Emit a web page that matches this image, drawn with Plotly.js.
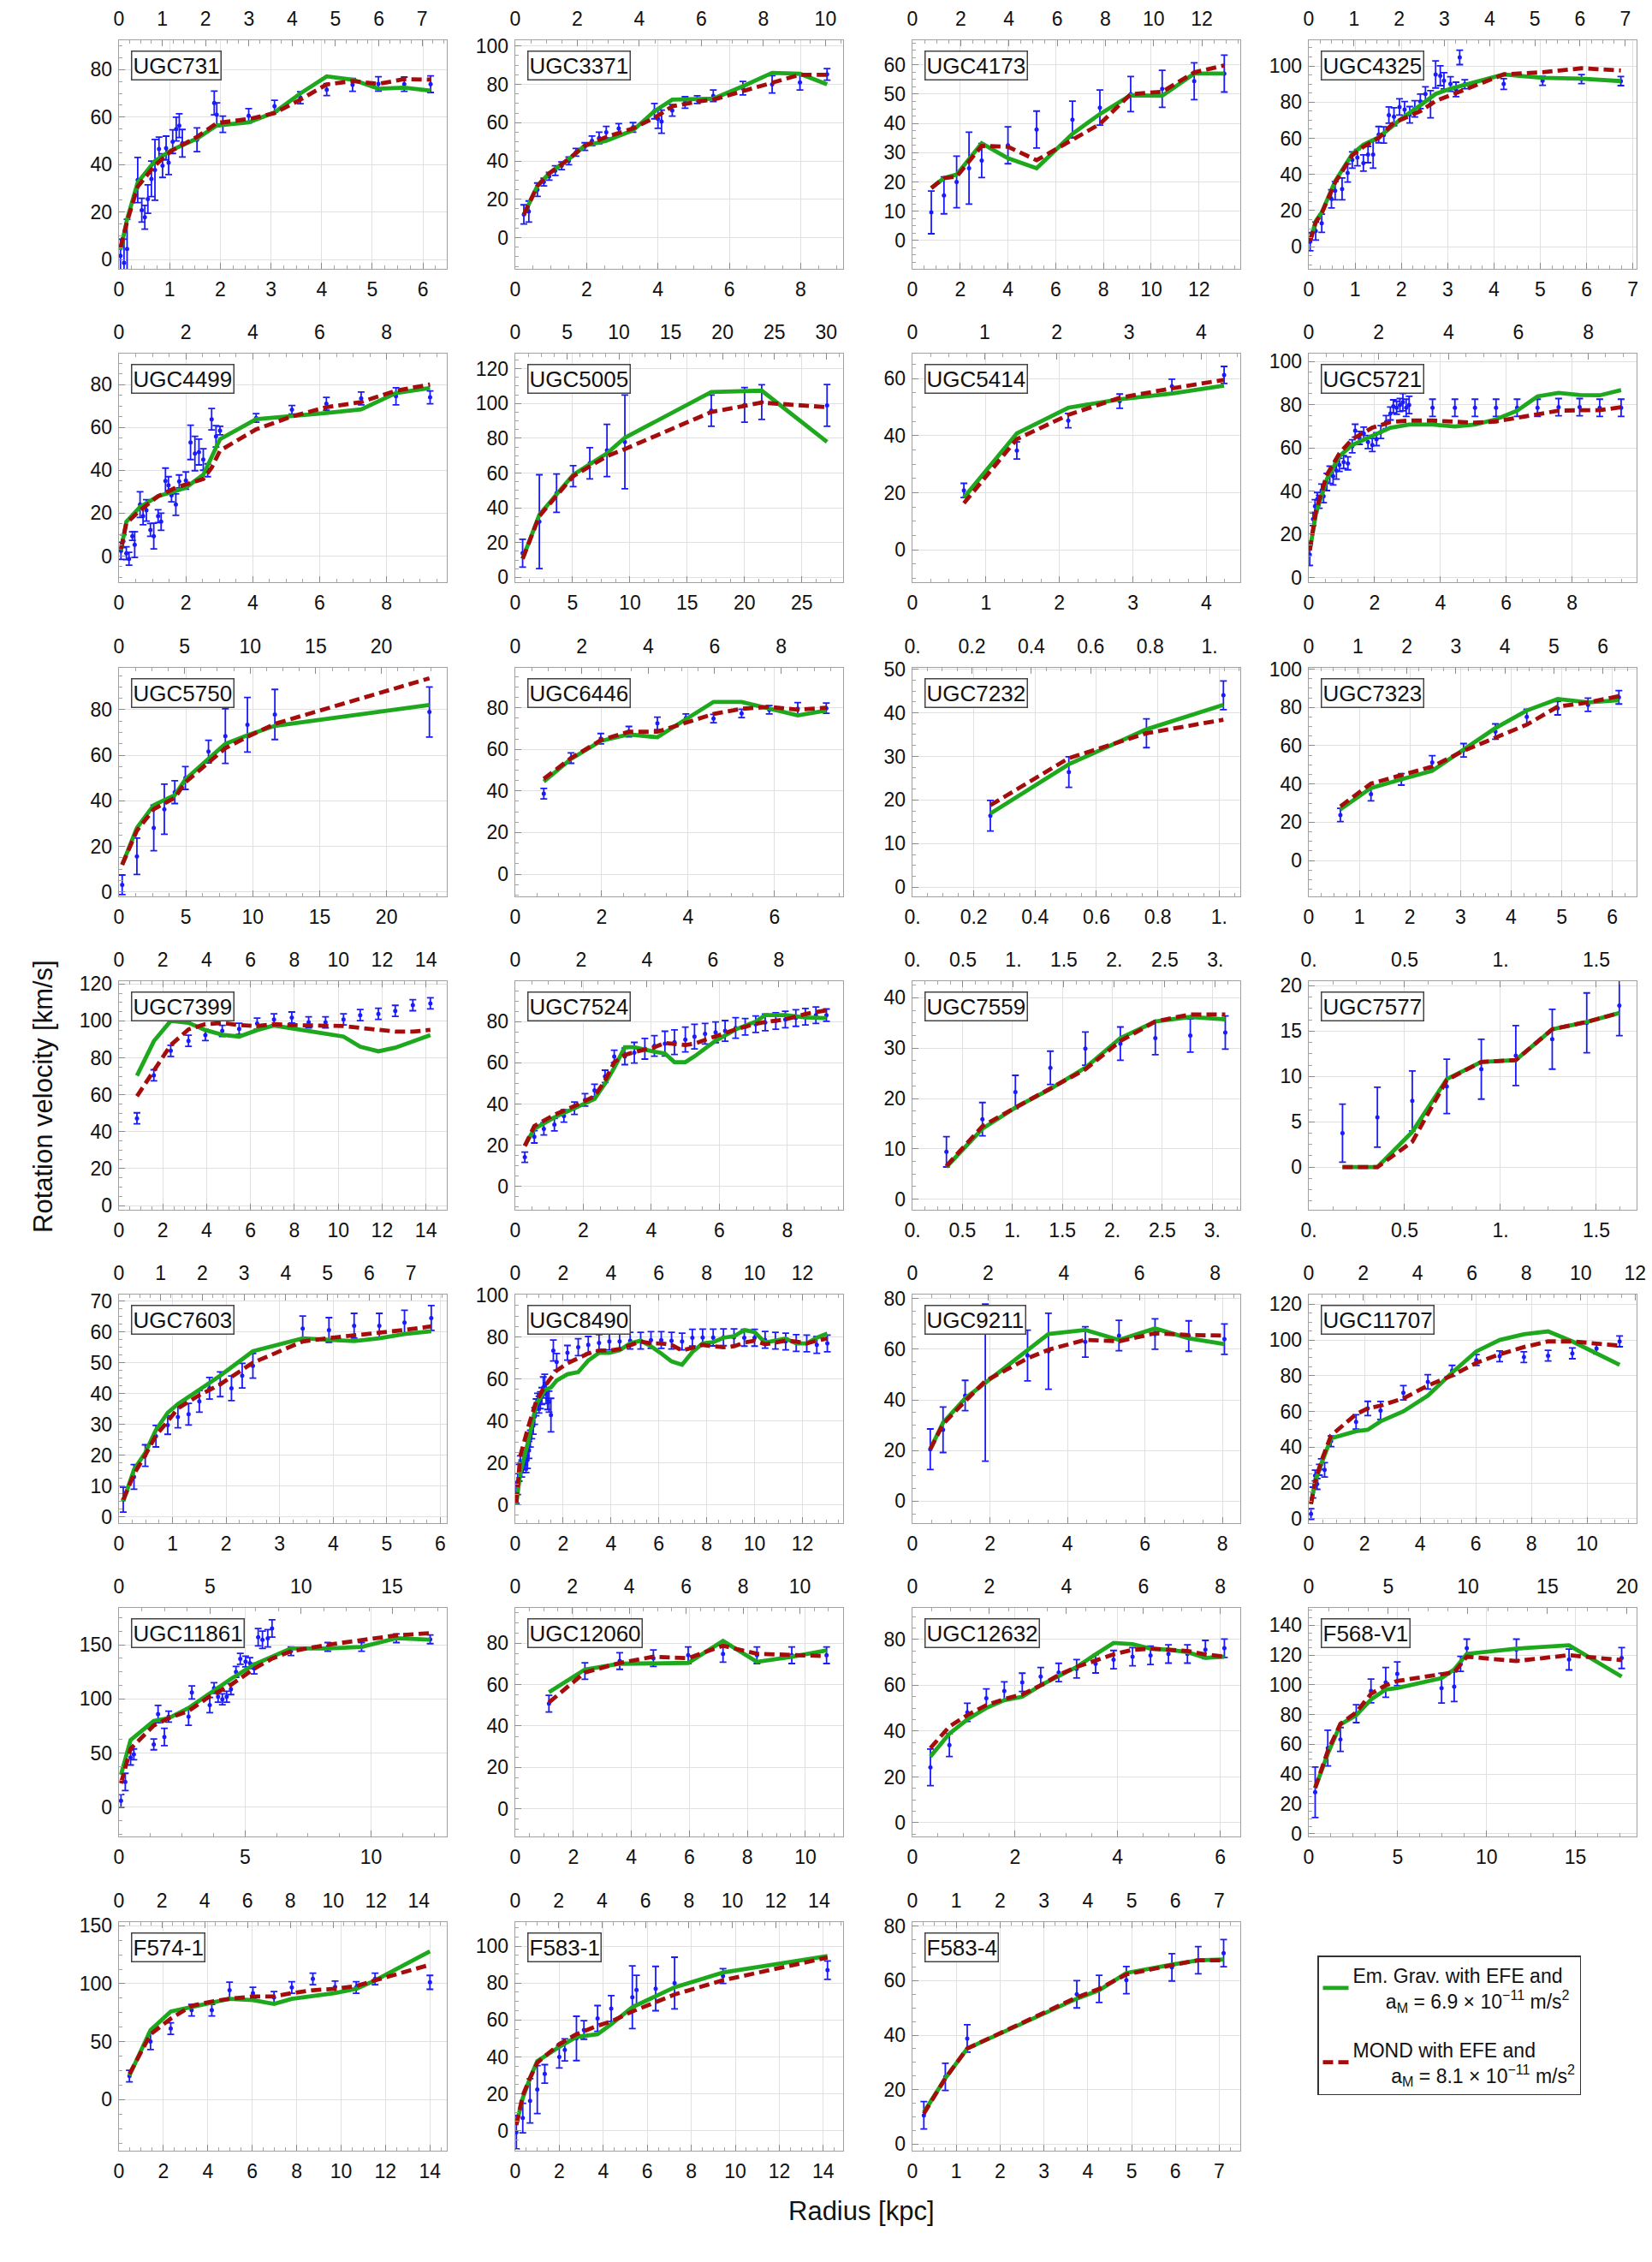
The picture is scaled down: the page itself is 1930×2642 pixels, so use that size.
<!DOCTYPE html>
<html><head><meta charset="utf-8">
<script src="https://cdn.plot.ly/plotly-3.0.1.min.js"></script>
<style>html,body{margin:0;padding:0;background:#fff}#chart{width:1930px;height:2642px}</style>
</head><body><div id="chart"></div>
<script>
// ---------------- DATA ----------------
const names = ["UGC731","UGC3371","UGC4173","UGC4325","UGC4499","UGC5005","UGC5414","UGC5721","UGC5750","UGC6446","UGC7232","UGC7323","UGC7399","UGC7524","UGC7559","UGC7577","UGC7603","UGC8490","UGC9211","UGC11707","UGC11861","UGC12060","UGC12632","F568-V1","F574-1","F583-1","F583-4"];

const r_UGC731 = [0.03,0.10,0.16,0.37,0.45,0.51,0.57,0.64,0.71,0.79,0.86,0.93,0.98,1.06,1.13,1.19,1.25,1.54,1.88,1.93,2.05,2.56,3.07,3.58,4.10,4.61,5.12,5.63,6.15];
const v_UGC731 = [1.6,-1.4,4.5,33.5,20.8,17.8,25.5,34,37.8,46.6,39.6,47,40.8,49.7,55,56.4,49,50.5,66,61,57,60.6,64.6,68.2,71.6,73.6,74,73.9,73.9];
const e_UGC731 = [7,10,12.5,9.5,5,5,6,7.5,12.8,5,5,5,5,5,5,5,5.8,5,5,5,3.4,3,2.5,2.5,2.5,2.7,3,3,3.5];
const mr_UGC731 = [0.03,0.16,0.37,0.71,1.03,1.54,1.93,2.56,3.07,3.58,4.10,4.61,5.12,5.63,6.15];
const eg_UGC731 = [4,17,32.5,41.5,46,51,56.5,57.8,62,70,77.2,75.8,72,72.4,71.2];
const md_UGC731 = [5,16,30.7,39.7,45.7,51.7,57.5,59.2,61.7,67.4,73.8,75.2,74,76,75.8];

const r_UGC3371 = [0.24,0.38,0.62,0.8,0.95,1.12,1.3,1.5,1.7,1.95,2.15,2.35,2.55,2.9,3.3,3.9,4.0,4.1,4.4,4.76,5.1,5.55,6.38,7.2,7.98,8.74];
const v_UGC3371 = [12.1,13.6,25,29,32,35,37.5,40,44.5,47.5,50.5,52,55,57,57.5,66,62,60.5,66.4,70.5,72,74,78,80,81,85.2];
const e_UGC3371 = [5,5.5,3.5,2,2,2.5,2,2,2,2,2.5,3,3,2.5,2.5,4,5,6,3,3,2,3,3.5,4.5,4,3];
const mr_UGC3371 = [0.24,0.62,0.95,1.5,1.95,2.55,3.3,3.9,4.4,5.1,5.55,6.38,7.2,7.98,8.74];
const eg_UGC3371 = [12,27,33.5,41,48,50.5,56,66,72,72.5,72.5,79,86,85.5,80];
const md_UGC3371 = [12,27,33.5,41,48,52.5,57,62.5,68.5,71,72,76.5,81,85,85];

const r_UGC4173 = [0.79,1.32,1.85,2.37,2.9,4.0,5.2,6.7,7.85,9.14,10.46,11.8,13.06];
const v_UGC4173 = [9.6,15.4,20,24.7,27.3,32.5,37.9,41.3,45.4,50,51.8,54.4,57];
const e_UGC4173 = [7.3,6.3,8.8,12.3,5.8,6.3,6.3,6.3,6,6,6.3,6.3,6.3];
const mr_UGC4173 = [0.79,1.32,1.85,2.9,4.0,5.2,6.7,7.85,9.14,10.46,11.8,13.06];
const eg_UGC4173 = [17.9,21.3,22.5,33.2,28.1,24.7,36.4,43.2,49.6,49.4,57,57];
const md_UGC4173 = [17.9,21.3,21.8,32.3,32,27.4,34.4,39.8,50,50.8,57.4,59.8];

const r_UGC4325 = [0.03,0.15,0.28,0.49,0.57,0.72,0.84,0.94,1.05,1.18,1.28,1.39,1.51,1.62,1.73,1.84,1.96,2.07,2.18,2.29,2.41,2.52,2.63,2.74,2.84,2.92,3.06,3.18,3.26,3.37,4.21,5.05,5.89,6.74];
const v_UGC4325 = [2.8,8.7,13,26.5,31,32,40.8,48,49.3,46.3,51,51,62,61.8,72.8,71.9,77.3,75.8,73,76.3,80.4,84.5,78.8,95.3,94.6,91.8,90,87,104.7,89.9,90,91.8,92.7,91.6];
const e_UGC4325 = [5,5,5,5,5,6,5,4.5,4.5,4.5,4.5,7.5,4.5,4.5,4.5,5,4.5,4.5,4.5,4.5,4,4,7.5,7.5,5.5,4.5,4,4,4,2.5,3,2.5,2.5,2.5];
const mr_UGC4325 = [0.03,0.15,0.28,0.57,0.94,1.18,1.51,1.84,2.07,2.41,2.74,3.06,3.37,4.21,5.05,5.89,6.74];
const eg_UGC4325 = [3.2,14.2,19,36.3,51.3,56.4,60.5,67.1,72.2,78.2,84.5,87.4,89.6,95.3,93.4,93,91.6];
const md_UGC4325 = [3.2,13.4,18.5,35.5,50.6,55.3,60.2,68.7,71.1,75,80.6,84,86.9,95.3,96.5,98.7,97.5];

const r_UGC4499 = [0.06,0.13,0.22,0.3,0.4,0.47,0.63,0.72,0.82,0.94,1.04,1.17,1.26,1.39,1.48,1.57,1.7,1.8,2.0,2.14,2.27,2.39,2.52,2.65,2.77,2.9,3.02,4.1,5.17,6.2,7.24,8.28,9.3];
const v_UGC4499 = [2.4,6.9,1.3,-1.3,9.3,5.3,24,18.6,21.3,12.2,9.3,18.6,16,35,33,28.3,24,34.8,35.2,53,47.8,48.5,45,40,63.8,55.8,58.5,64.4,68.2,71,73.5,74.5,74];
const e_UGC4499 = [4,3,3,3,2,6,6,4,5,3,6,3,4,6,4,3,5,3,4,8,8,6,5,3,5,5,2,2,2,3,3,4,3];
const mr_UGC4499 = [0.06,0.22,0.63,1.17,1.7,2.0,2.52,2.77,3.02,4.1,5.17,6.2,7.24,8.28,9.3];
const eg_UGC4499 = [2.7,16,22.9,27.9,30.3,31.9,37.9,46.5,54.5,63.8,65.1,66.7,68.4,76,78.4];
const md_UGC4499 = [3.3,15.3,21.3,27.9,31.9,33.2,35.9,41.2,49.2,59.1,65.1,69.4,71.8,77.1,80];

const r_UGC5005 = [0.64,2.1,3.6,5.05,6.5,8.0,9.56,17.1,20.0,21.5,27.2];
const v_UGC5005 = [13.9,32,48.4,58.2,65.6,73,77.9,95.9,99.2,100.8,98.9];
const e_UGC5005 = [8,27,11,6,9,15,27,9,10,10,12];
const mr_UGC5005 = [0.64,2.1,5.05,8.0,9.56,17.1,21.5,27.2];
const eg_UGC5005 = [10.7,36,59,71.3,80.3,106.6,107.4,77.9];
const md_UGC5005 = [10.7,35.2,58.2,69.7,73.8,95.1,100.5,97.9];

const r_UGC5414 = [0.70,1.42,2.12,2.82,3.53,4.24];
const v_UGC5414 = [20.8,34.8,45.3,52.1,57.3,61.3];
const e_UGC5414 = [2.5,3,2.5,2.5,2.5,3];
const mr_UGC5414 = r_UGC5414;
const eg_UGC5414 = [18.3,40.8,49.8,52.8,54.8,57.6];
const md_UGC5414 = [16.3,38.8,47.3,53.3,56.6,59.6];

const r_UGC5721 = [0.03,0.13,0.19,0.26,0.32,0.39,0.45,0.55,0.64,0.74,0.84,0.93,1.06,1.19,1.32,1.41,1.54,1.67,1.8,1.93,2.06,2.19,2.35,2.48,2.57,2.67,2.77,2.86,2.96,3.05,3.76,4.44,5.05,5.69,6.33,6.95,7.59,8.23,8.84,9.49];
const v_UGC5721 = [10.6,27,33,36.3,35,40.2,37.6,44.2,47.5,46.8,49.5,52.1,53.4,52.8,60.7,67.9,64.6,66.6,62.7,61.3,64,67.3,71.9,75.9,79.2,78.5,79.8,81.1,78.5,79.8,78.5,78.5,78.5,78.5,78.5,78.5,78.8,78.8,78.5,78.5];
const e_UGC5721 = [5,3,3,3,3,3,3,4,4,4,4,3,3,3,3,3,3,3,3,3,3,3,3,3,3,3,3,4,4,4,4,4,4,4,4,4,4,4,4,4];
const mr_UGC5721 = [0.03,0.22,0.55,0.93,1.32,1.93,2.48,3.05,3.76,4.44,5.05,5.69,6.33,6.95,7.59,8.23,8.84,9.49];
const eg_UGC5721 = [12.5,29.7,45.5,56.1,61.3,65.3,69.3,70.8,70.8,69.9,70.8,73.2,77.2,83.8,85.4,84.4,84.3,86.7];
const md_UGC5721 = [12.5,31,47.5,57.4,64,69.3,71.9,72.6,72.6,72.3,71.6,72.2,73.9,75.9,77.2,77.4,77.4,78.8];

const r_UGC5750 = [0.24,1.34,2.6,3.39,4.17,4.96,6.69,7.95,9.6,11.65,23.2];
const v_UGC5750 = [3.1,15.6,28.1,36.3,43.8,50,61.6,68.4,73.4,77.9,79];
const e_UGC5750 = [4.3,8,10,11,5,5,5,12,12,11,11];
const mr_UGC5750 = [0.24,1.34,2.6,4.17,4.96,6.69,7.95,9.6,11.65,23.2];
const eg_UGC5750 = [11.9,28.1,38.1,42.5,49.4,58.1,65,68.75,72.9,82.1];
const md_UGC5750 = [11.9,26.9,36.3,41.3,48.1,56.9,63.1,68.1,73.8,93.8];

const r_UGC6446 = [0.66,1.29,1.98,2.63,3.29,3.95,4.59,5.24,5.88,6.54,7.2];
const v_UGC6446 = [38.7,55.8,65.1,68.5,72.5,75,74.8,77.3,79,79.5,79.8];
const e_UGC6446 = [2.5,2.5,2.5,2.5,3,2,2,2,2,3,2.5];
const mr_UGC6446 = r_UGC6446;
const eg_UGC6446 = [44.5,55.4,64,67.2,65.8,74.3,82.8,82.8,79.5,76.3,78.7];
const md_UGC6446 = [45.8,55.8,64.4,68.5,68.5,72.9,77,79.5,80.4,79.1,80];

const r_UGC7232 = [0.254,0.51,0.763,1.014];
const v_UGC7232 = [16.4,26.4,35.3,44];
const e_UGC7232 = [3.5,3.5,3.3,3.3];
const mr_UGC7232 = r_UGC7232;
const eg_UGC7232 = [16.9,28.2,36.2,41.8];
const md_UGC7232 = [18.8,29.6,35.3,38.4];

const r_UGC7323 = [0.625,1.23,1.83,2.44,3.06,3.69,4.31,4.92,5.52,6.13];
const v_UGC7323 = [23.8,34.7,42.4,51.3,57.6,67.4,75.1,79.6,81.4,85.3];
const e_UGC7323 = [3.5,3.5,3,3.5,3.5,4,4,3.5,3.5,3.5];
const mr_UGC7323 = r_UGC7323;
const eg_UGC7323 = [26.8,37.9,42.4,46.9,58,69.2,78.4,84.4,82.6,83.8];
const md_UGC7323 = [28.3,40.2,44.6,49.1,57.3,64.4,71,80.4,82.6,85.9];

const r_UGC7399 = [0.82,1.59,2.36,3.17,3.94,4.71,5.48,6.3,7.07,7.88,8.65,9.42,10.24,11.0,11.83,12.6,13.4,14.2];
const v_UGC7399 = [47.2,70.5,83.8,89.2,92.3,94.6,95.7,98.5,100.8,101.8,99.2,99.2,100.8,103.1,103.8,105.4,108.5,109.5];
const e_UGC7399 = [3,3,3,3,3,3,3,3,3,3,3,3,3,3,3,3,3,3];
const mr_UGC7399 = r_UGC7399;
const eg_UGC7399 = [70.3,89,100,99,95,92.5,91.5,95,97.5,96,94.5,93,91.5,86,83.5,85.5,89,92.3];
const md_UGC7399 = [59.2,73,86.9,95.4,98.2,98.8,97.7,97.2,98.2,97.7,97.5,97.5,97.2,96.2,95.1,94.2,94.2,95.1];

const r_UGC7524 = [0.28,0.56,0.84,1.15,1.43,1.74,2.05,2.33,2.64,2.91,3.22,3.5,3.81,4.09,4.4,4.68,5.0,5.27,5.58,5.89,6.17,6.48,6.76,7.07,7.35,7.66,7.94,8.25,8.53,8.84,9.15];
const v_UGC7524 = [14.2,24.1,28,30,34.2,38,42,46.6,53.4,63.1,63.1,64.9,66.8,68.2,69.3,70,71.3,72.7,74.1,74.8,75.5,76.9,77.5,78.7,79.6,80.3,81,81.7,82.4,83.1,83.1];
const e_UGC7524 = [2.5,3,3,3,3,3,3,3,3,3,4,5,5,5,6,6,6,6,5,5,5,5,4,4,4,4,4,4,4,4,3];
const mr_UGC7524 = [0.28,0.56,1.15,1.74,2.33,2.64,2.91,3.22,3.5,4.09,4.4,4.68,5.0,5.27,5.89,6.48,7.07,7.35,7.94,8.53,9.15];
const eg_UGC7524 = [19.7,28,33.5,38,42.4,50,57.6,67.6,67.6,65.4,64.5,60.3,60.3,63.1,70.7,76.2,80,83.1,83.1,82,81.7];
const md_UGC7524 = [19.7,29.3,34.8,39,43.8,51.4,60.3,63.8,65.2,67.5,69.6,69.1,68.6,69.3,72.7,76.2,78.9,79.8,81,83.7,85.5];

const r_UGC7559 = [0.34,0.70,1.03,1.38,1.73,2.08,2.43,2.78,3.13];
const v_UGC7559 = [9.4,15.9,21.3,26.1,29.9,30.9,32,32.5,33.1];
const e_UGC7559 = [3,3.3,3.3,3.3,3.3,3.3,3.3,3.3,3.3];
const mr_UGC7559 = r_UGC7559;
const eg_UGC7559 = [6.4,14,18.2,21.9,26.1,32,35.3,36.2,35.7];
const md_UGC7559 = [6.6,14.5,18.2,21.9,25.8,31.4,35.3,36.7,36.7];

const r_UGC7577 = [0.176,0.358,0.54,0.72,0.9,1.08,1.27,1.45,1.62];
const v_UGC7577 = [3.75,5.5,7.3,8.9,10.8,12.3,14.1,15.9,17.8];
const e_UGC7577 = [3.2,3.3,3.3,3,3.3,3.3,3.3,3.3,3.3];
const mr_UGC7577 = r_UGC7577;
const eg_UGC7577 = [0,0,3.9,9.7,11.6,11.8,15.2,16,17];
const md_UGC7577 = [0,0,2.8,9.6,11.6,11.8,15.2,16,17];

const r_UGC7603 = [0.08,0.28,0.49,0.69,0.91,1.1,1.3,1.5,1.69,1.89,2.1,2.3,2.5,3.43,3.92,4.39,4.86,5.33,5.83];
const v_UGC7603 = [5.6,13,19.9,26.2,29.8,32.4,33.3,37.5,41.7,43,41.7,45.8,49,61.1,60.6,62,62,63,64.5];
const e_UGC7603 = [4,4,3.5,3.5,3,3.5,3.5,3.5,3.5,4,4,4,4,4,4,4,4,4,4];
const mr_UGC7603 = [0.08,0.28,0.49,0.69,0.91,1.1,1.5,1.89,2.5,3.43,3.92,4.39,4.86,5.33,5.83];
const eg_UGC7603 = [5.1,15.3,20.8,28.2,33.8,36.6,41.2,45.8,53.7,57.9,57.4,57,57.9,59.3,60.2];
const md_UGC7603 = [5.6,13.9,20,26.4,31,35.2,39.5,43,50,56.9,58,58.8,59.5,60.6,61.8];

const r_UGC8490 = [0.04,0.1,0.16,0.21,0.27,0.33,0.39,0.45,0.51,0.57,0.63,0.69,0.75,0.81,0.87,0.93,0.99,1.05,1.11,1.17,1.23,1.29,1.35,1.41,1.49,1.59,1.73,2.18,2.63,3.05,3.5,3.93,4.36,4.8,5.24,5.67,6.1,6.53,6.97,7.4,7.83,8.27,8.7,9.14,9.57,10.0,10.44,10.87,11.3,11.74,12.18,12.6,13.04];
const v_UGC8490 = [5.8,9.9,15.3,19.4,17.3,19.4,20.7,19.4,21.4,26.2,31.6,35.6,37.7,42.4,46.5,49.2,47.8,49.9,51.9,56,57.3,53.3,50.5,49.2,42.8,73.6,68.2,72.5,75.2,76.3,77.2,77.9,77.9,78.3,78.3,78.6,78.6,78.3,77.9,79.7,79.8,79.8,79.9,79.9,79.7,79.7,78.7,78.3,77.9,77.2,77,76.3,77];
const e_UGC8490 = [5,5,4,4,4,4,4,4,4,4,4,4,4,4,4,4,4,4,4,5,5,5,5,5,8,5,4,3.5,4,4,4,4,4,4,4,4,4,4,4,4,4,4,4,4,4,4,4,4,4,4,4,4,4];
const mr_UGC8490 = [0.04,0.21,0.57,0.87,1.23,1.49,1.73,2.18,2.63,3.05,3.5,3.93,4.36,4.8,5.24,5.67,6.1,6.53,6.97,7.4,7.83,8.27,8.7,9.14,9.57,10.0,10.44,10.87,11.3,11.74,12.18,12.6,13.04];
const eg_UGC8490 = [0.4,15.3,31.6,47.8,54.6,56,59.3,62.3,63.3,68.8,72.5,72.5,73.8,77,78.3,75.6,72.2,68.4,66.8,72.9,77,77.6,79.7,80.4,83.3,82.4,77.4,78.3,79.3,77,77,79.7,81.7];
const md_UGC8490 = [1.1,23.4,38.3,49.2,56.6,60.7,64.1,67.5,69.8,72.2,73.6,73.6,74.3,76.3,77.9,77,77,76.3,73.6,74.9,76.3,75.6,75.2,75.6,77.4,78.3,76.6,77.4,78.3,77.9,77,78.3,79.3];

const r_UGC9211 = [0.46,0.79,1.36,1.88,2.97,3.51,4.46,5.33,6.26,7.13,8.05];
const v_UGC9211 = [20.5,28.2,41.7,46.8,57.5,59.2,62.9,65.4,66,65.2,64];
const e_UGC9211 = [8,9,6,31,10,15,6,6,6,6,6];
const mr_UGC9211 = r_UGC9211;
const eg_UGC9211 = [20.5,31,40.6,46.8,59.8,66,67.6,63.7,68.2,64.3,62];
const md_UGC9211 = [20.5,30.4,39.5,47.4,56.4,59.8,63.7,63.1,66.3,65.6,65.4];

const r_UGC11707 = [0.08,0.15,0.23,0.3,0.38,0.45,0.57,0.8,1.7,2.12,2.58,3.4,4.28,5.15,6.02,6.86,7.73,8.6,9.47,10.34,11.17];
const v_UGC11707 = [2.7,14.7,24.2,19.5,27.4,30.6,27.4,43.4,54.2,61.7,60.6,70.5,76.6,82.8,88.8,90.9,90.4,91.2,92.5,95.2,99.2];
const e_UGC11707 = [3,3,3,3,3,3,4,3,4,4,5,4,4,3,3,3,3,3,3,3,3];
const mr_UGC11707 = [0.08,0.23,0.45,0.8,1.7,2.12,2.58,3.4,4.28,5.15,6.02,6.86,7.73,8.6,9.47,10.34,11.17];
const eg_UGC11707 = [8.3,21,30.6,45,49,49.8,54.5,60.1,68.9,81.7,93.6,100,103.2,104.8,99.2,92.8,86.1];
const md_UGC11707 = [8.3,21,32.2,46.6,58.5,61.7,63.3,67.3,74.5,80.1,87.2,92,96,99.2,99.2,97.9,96.8];

const r_UGC11861 = [0.08,0.25,0.46,0.59,1.38,1.55,1.8,1.97,2.76,2.89,3.6,3.77,3.93,4.1,4.27,4.44,4.64,4.81,5.02,5.19,5.36,5.52,5.69,5.9,6.07,6.82,8.28,9.62,11.0,12.34];
const v_UGC11861 = [5.9,23.3,46,48.8,58,86,64.8,83.6,83.6,106,94.3,110,102,99.6,102,109,125,137,134.5,133,128,157,154.5,156,165,144,148,148,156,155];
const e_UGC11861 = [6,8,7,5,5,8,8,5,8,6,7,5,5,5,5,5,5,5,5,5,5,8,8,8,8,4,4,4,4,4];
const mr_UGC11861 = [0.08,0.46,1.38,1.97,2.76,3.6,4.44,5.36,6.07,6.82,8.28,9.62,11.0,12.34];
const eg_UGC11861 = [30,62,79.6,82.2,91.6,105,118.4,131.8,138.5,146.5,146.5,147.9,156,154.6];
const md_UGC11861 = [22,54,75.5,82.2,88.9,102.3,113,127.8,137.2,143.9,150,153.8,158.6,160.7];

const r_UGC12060 = [1.16,2.4,3.6,4.76,5.96,7.16,8.33,9.53,10.73];
const v_UGC12060 = [50.8,66.6,71.4,72.8,74.2,74.9,74.2,74.2,74.2];
const e_UGC12060 = [4,4,4,4,4,4,4,4,4];
const mr_UGC12060 = r_UGC12060;
const eg_UGC12060 = [56.3,67.3,70.1,70.5,70.5,81.1,71,73.5,76.6];
const md_UGC12060 = [51.4,65.9,70.5,73.5,72.8,78.8,74.9,74.2,73.8];

const r_UGC12632 = [0.35,0.72,1.07,1.44,1.79,2.14,2.5,2.85,3.2,3.57,3.92,4.29,4.64,4.99,5.36,5.71,6.08];
const v_UGC12632 = [24.2,33.9,48.2,54.4,57.5,61.3,63.8,65.6,67.2,69.4,71.2,72.5,73.1,73.7,73.7,75.6,76.2];
const e_UGC12632 = [8,5,4,4,4,4,4,4,4,4,4,4,4,4,4,4,4];
const mr_UGC12632 = r_UGC12632;
const eg_UGC12632 = [28.9,38.9,45.1,50.1,53.5,55,60,64,68,73.5,78.5,78,76,75.5,74.5,72,72.5];
const md_UGC12632 = [32.6,42,47,51.3,54,56,60,64.5,68,71,73.5,75.5,76,75.5,75,73.5,72.5];

const r_F568_V1 = [0.36,1.07,1.78,2.67,3.5,4.33,4.98,7.47,8.18,8.54,8.89,11.68,14.64,17.6];
const v_F568_V1 = [27.8,57.5,63.3,80.6,95.9,101.6,107.4,97.8,98.8,114.1,124.7,123.7,117,118];
const e_F568_V1 = [17,12,8,6,8,10,8,10,10,5,6,7,7,7];
const mr_F568_V1 = [0.36,1.07,1.78,2.67,3.5,4.33,4.98,7.47,8.18,8.89,11.68,14.64,17.6];
const eg_F568_V1 = [30.7,53.7,73.3,79.6,90.1,96.9,97.8,104.5,110.3,120.8,124.3,126.6,105.5];
const md_F568_V1 = [30.7,55.6,73.8,81.5,94,99.7,102.6,107.4,108.4,118.9,116,119.9,116.6];

const r_F574_1 = [0.47,1.42,2.33,3.27,4.18,4.98,6.03,6.98,7.78,8.73,9.73,10.68,11.53,14.0];
const v_F574_1 = [20.3,50.2,61.3,77.2,77.2,94.4,91.9,88.2,96.8,104.2,97.3,96.8,104.2,101.2];
const e_F574_1 = [5,7,5,5,5,7,5,5,5,5,5,5,5,6];
const mr_F574_1 = r_F574_1;
const eg_F574_1 = [20.8,60,76,79.7,83.3,87,85.8,82.6,87,89.5,91.9,95.6,102.9,128];
const md_F574_1 = [22.1,56.4,69.9,80.9,84.6,87,89,89,91.9,94.4,95.6,98,102.9,116.4];

const r_F583_1 = [0.05,0.34,0.67,1.0,1.34,2.0,2.25,2.78,3.12,3.74,4.36,5.32,5.51,6.38,7.24,9.44,14.19];
const v_F583_1 = [-0.8,6.9,16.2,22.3,30.8,40,43.8,50,54.6,60.8,66.2,72.3,76.2,77,80,83.8,87];
const e_F583_1 = [9,8,12,13,5,6,6,12,5,7,7,17,8,12,14,4,5];
const mr_F583_1 = [0.05,0.34,0.67,1.0,2.0,2.78,3.74,4.36,5.32,6.38,7.24,9.44,14.19];
const eg_F583_1 = [3.8,17.7,28.5,37.7,45.4,50.8,52.3,57.7,66.9,73,77.7,85.7,94.6];
const md_F583_1 = [3.1,19.2,28.5,36.9,46.9,52.3,56.9,59.2,64.6,70,73.8,81.5,93.8];

const r_F583_4 = [0.26,0.75,1.25,3.75,4.26,4.88,5.92,6.52,7.1];
const v_F583_4 = [10.6,24.7,38.8,55,57,60.2,64.9,67.5,70.1];
const e_F583_4 = [5,5,5,5,5,5,5,5,5];
const mr_F583_4 = r_F583_4;
const eg_F583_4 = [11.7,24.2,35.1,53.4,56.5,62.8,65.9,67.5,67.8];
const md_F583_4 = [11.2,24.2,35.1,53.9,57,62.3,65.7,67.5,67.5];

// axis extents (kpc / km/s), secondary (top) axis scale, tick steps
const xMax = [6.47,9.19,13.73,7.08,9.8,28.6,4.46,9.96,24.5,7.59,1.069,6.48,14.95,9.64,3.28,1.71,6.12,13.7,8.46,11.78,13.0,11.3,6.39,18.44,14.76,14.9,7.48];
const yLo = [-3.9,-16.3,-9.7,-12.2,-12.2,-2.8,-11.4,-2.2,-2,-10.7,-2.1,-18.75,-2.3,-11.3,-2.1,-4.7,-2,-8.7,-8.7,-2.4,-27,-13.4,-6,-1.9,-44.1,-10.8,-2.4];
const yHi = [92.4,103,68.4,114.2,94.4,128.7,68.8,103.6,98.4,99.2,50.3,100.7,121.5,99.6,43.3,20.5,72.1,100.3,81.6,125.4,184,97.1,93.8,151.7,153.2,113,81.5];
const topRatio = [1.17,1.15,0.99,1.024,1.0,1.106,1.018,0.942,1.02,1.3,1.032,1.032,1.0,1.032,0.99,1.0,1.284,1.0,1.024,1.023,1.385,1.019,1.333,1.117,1.037,1.014,1.0];
const xStep = [1,2,2,1,2,5,1,2,5,2,0.2,1,2,2,0.5,0.5,1,2,2,2,5,2,2,5,2,2,1];
const yStep = [20,20,10,20,20,20,20,20,20,20,10,20,20,20,10,5,10,20,20,20,50,20,20,20,50,20,20];
const decimalTickPanels = [10,14,15];

const legendEG = "Em. Grav. with EFE and<br>\u00a0\u00a0\u00a0\u00a0\u00a0\u00a0a<sub>M</sub> = 6.9 × 10<sup>−11</sup> m/s<sup>2</sup>";
const legendMD = "MOND with EFE and<br>\u00a0\u00a0\u00a0\u00a0\u00a0\u00a0\u00a0a<sub>M</sub> = 8.1 × 10<sup>−11</sup> m/s<sup>2</sup>";

const radii = [r_UGC731,r_UGC3371,r_UGC4173,r_UGC4325,r_UGC4499,r_UGC5005,r_UGC5414,r_UGC5721,r_UGC5750,r_UGC6446,r_UGC7232,r_UGC7323,r_UGC7399,r_UGC7524,r_UGC7559,r_UGC7577,r_UGC7603,r_UGC8490,r_UGC9211,r_UGC11707,r_UGC11861,r_UGC12060,r_UGC12632,r_F568_V1,r_F574_1,r_F583_1,r_F583_4];
const vels = [v_UGC731,v_UGC3371,v_UGC4173,v_UGC4325,v_UGC4499,v_UGC5005,v_UGC5414,v_UGC5721,v_UGC5750,v_UGC6446,v_UGC7232,v_UGC7323,v_UGC7399,v_UGC7524,v_UGC7559,v_UGC7577,v_UGC7603,v_UGC8490,v_UGC9211,v_UGC11707,v_UGC11861,v_UGC12060,v_UGC12632,v_F568_V1,v_F574_1,v_F583_1,v_F583_4];
const errs = [e_UGC731,e_UGC3371,e_UGC4173,e_UGC4325,e_UGC4499,e_UGC5005,e_UGC5414,e_UGC5721,e_UGC5750,e_UGC6446,e_UGC7232,e_UGC7323,e_UGC7399,e_UGC7524,e_UGC7559,e_UGC7577,e_UGC7603,e_UGC8490,e_UGC9211,e_UGC11707,e_UGC11861,e_UGC12060,e_UGC12632,e_F568_V1,e_F574_1,e_F583_1,e_F583_4];
const modelR = [mr_UGC731,mr_UGC3371,mr_UGC4173,mr_UGC4325,mr_UGC4499,mr_UGC5005,mr_UGC5414,mr_UGC5721,mr_UGC5750,mr_UGC6446,mr_UGC7232,mr_UGC7323,mr_UGC7399,mr_UGC7524,mr_UGC7559,mr_UGC7577,mr_UGC7603,mr_UGC8490,mr_UGC9211,mr_UGC11707,mr_UGC11861,mr_UGC12060,mr_UGC12632,mr_F568_V1,mr_F574_1,mr_F583_1,mr_F583_4];
const emGrav = [eg_UGC731,eg_UGC3371,eg_UGC4173,eg_UGC4325,eg_UGC4499,eg_UGC5005,eg_UGC5414,eg_UGC5721,eg_UGC5750,eg_UGC6446,eg_UGC7232,eg_UGC7323,eg_UGC7399,eg_UGC7524,eg_UGC7559,eg_UGC7577,eg_UGC7603,eg_UGC8490,eg_UGC9211,eg_UGC11707,eg_UGC11861,eg_UGC12060,eg_UGC12632,eg_F568_V1,eg_F574_1,eg_F583_1,eg_F583_4];
const mond = [md_UGC731,md_UGC3371,md_UGC4173,md_UGC4325,md_UGC4499,md_UGC5005,md_UGC5414,md_UGC5721,md_UGC5750,md_UGC6446,md_UGC7232,md_UGC7323,md_UGC7399,md_UGC7524,md_UGC7559,md_UGC7577,md_UGC7603,md_UGC8490,md_UGC9211,md_UGC11707,md_UGC11861,md_UGC12060,md_UGC12632,md_F568_V1,md_F574_1,md_F583_1,md_F583_4];

// ---------------- LAYOUT ----------------
const W = 1930, H = 2642;
const colLeft = [139, 602, 1066, 1529], rowTop = [47, 413, 780, 1146, 1512, 1878, 2245];
const PW = 383, PH = 267;
const FONT = '"Liberation Sans", Arial, Helvetica, sans-serif';
const BLUE = '#1a1aff', GREEN = '#1ea81e', RED = '#a50c0c';
const FRAME = '#a0a0a0', GRID = '#e0e0e0';
const TICKSIZE = 23;

function decTicks(max, step) {
  const vals = [], txt = [];
  for (let k = 0; k * step <= max + 1e-9; k++) {
    const v = +(k * step).toFixed(6);
    vals.push(v);
    txt.push(Number.isInteger(v) ? v + '.' : String(v));
  }
  return { tickmode: 'array', tickvals: vals, ticktext: txt };
}

const traces = [];
const layout = {
  width: W, height: H, autosize: false,
  margin: { l: 0, r: 0, t: 0, b: 0 },
  paper_bgcolor: '#fff', plot_bgcolor: '#fff',
  font: { family: FONT, size: TICKSIZE, color: '#111' },
  showlegend: true,
  legend: {
    x: 1539 / W, y: 1 - 2284 / H, xanchor: 'left', yanchor: 'top',
    bgcolor: '#fff', bordercolor: '#333', borderwidth: 1.5,
    font: { family: FONT, size: 23, color: '#111' },
    itemwidth: 30, valign: 'middle', tracegroupgap: 24
  },
  annotations: [
    { text: 'Rotation velocity [km/s]', xref: 'paper', yref: 'paper', x: 50 / W, y: 1 - 1281 / H,
      xanchor: 'center', yanchor: 'middle',
      textangle: -90, showarrow: false, font: { family: FONT, size: 31, color: '#111' } },
    { text: 'Radius [kpc]', xref: 'paper', yref: 'paper', x: 1006 / W, y: 1 - 2582 / H,
      xanchor: 'center', yanchor: 'middle',
      showarrow: false, font: { family: FONT, size: 31, color: '#111' } }
  ]
};

names.forEach((name, i) => {
  const col = i % 4, row = Math.floor(i / 4);
  const L = colLeft[col], T = rowTop[row];
  const xd = [L / W, (L + PW) / W], yd = [1 - (T + PH) / H, 1 - T / H];
  const xb = 'x' + (i === 0 ? '' : (2 * i + 1));
  const xt = 'x' + (2 * i + 2);
  const yr = 'y' + (i === 0 ? '' : (i + 1));
  const xbKey = 'xaxis' + (i === 0 ? '' : (2 * i + 1));
  const xtKey = 'xaxis' + (2 * i + 2);
  const yKey = 'yaxis' + (i === 0 ? '' : (i + 1));
  const dec = decimalTickPanels.includes(i);
  const common = {
    showline: true, linecolor: FRAME, linewidth: 1.3,
    ticks: 'inside', ticklen: 7, tickcolor: '#8a8a8a', tickwidth: 1,
    zeroline: false, tickfont: { family: FONT, size: TICKSIZE, color: '#111' },
    fixedrange: true
  };
  layout[xbKey] = Object.assign({}, common, {
    domain: xd, anchor: yr, range: [0, xMax[i]],
    showgrid: true, gridcolor: GRID, gridwidth: 1,
    minor: { ticks: 'inside', ticklen: 4, tickcolor: '#a5a5a5', dtick: xStep[i] / 4, tick0: 0, showgrid: false },
    ticklabelstandoff: 3
  }, dec ? decTicks(xMax[i], xStep[i]) : { dtick: xStep[i], tick0: 0 });
  const topMax = xMax[i] * topRatio[i];
  layout[xtKey] = Object.assign({}, common, {
    overlaying: xb, side: 'top', anchor: yr, range: [0, topMax],
    showgrid: false,
    minor: { ticks: 'inside', ticklen: 4, tickcolor: '#a5a5a5', dtick: xStep[i] / 4, tick0: 0, showgrid: false },
    ticklabelstandoff: 7
  }, dec ? decTicks(topMax, xStep[i]) : { dtick: xStep[i], tick0: 0 });
  layout[yKey] = Object.assign({}, common, {
    domain: yd, anchor: xb, range: [yLo[i], yHi[i]], mirror: true,
    showgrid: true, gridcolor: GRID, gridwidth: 1,
    dtick: yStep[i], tick0: 0,
    minor: { ticks: 'inside', ticklen: 4, tickcolor: '#a5a5a5', dtick: yStep[i] / 4, tick0: 0, showgrid: false },
    ticklabelstandoff: 2
  });

  traces.push({
    type: 'scatter', mode: 'markers', x: radii[i], y: vels[i], xaxis: xb, yaxis: yr,
    marker: { size: 5, color: BLUE },
    error_y: { type: 'data', array: errs[i], visible: true, color: BLUE, thickness: 1.8, width: 4 },
    showlegend: false, hoverinfo: 'skip', name: name + ' data'
  });
  traces.push({
    type: 'scatter', mode: 'lines', x: modelR[i], y: emGrav[i], xaxis: xb, yaxis: yr,
    line: { color: GREEN, width: 4.8 }, name: legendEG, legendgroup: 'eg',
    showlegend: i === 0, hoverinfo: 'skip'
  });
  traces.push({
    type: 'scatter', mode: 'lines', x: modelR[i], y: mond[i], xaxis: xb, yaxis: yr,
    line: { color: RED, width: 4.8, dash: '12px,6px' }, name: legendMD, legendgroup: 'md',
    showlegend: i === 0, hoverinfo: 'skip'
  });
  traces.push({
    type: 'scatter', mode: 'markers', x: [], y: [], xaxis: xt, yaxis: yr,
    showlegend: false, hoverinfo: 'skip'
  });

  layout.annotations.push({
    text: name, xref: xb + ' domain', yref: yr + ' domain',
    x: 14 / PW, y: 1 - 12 / PH, xanchor: 'left', yanchor: 'top', showarrow: false,
    font: { family: FONT, size: 26, color: '#111' },
    bgcolor: '#fff', bordercolor: '#444', borderwidth: 1.5, borderpad: 1
  });
});

Plotly.newPlot('chart', traces, layout, { staticPlot: true, displayModeBar: false });
</script>
</body></html>
